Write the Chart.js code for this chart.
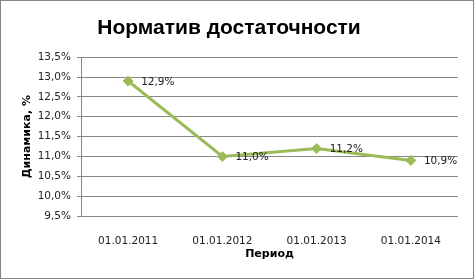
<!DOCTYPE html>
<html>
<head>
<meta charset="utf-8">
<script src="https://cdn.jsdelivr.net/npm/chart.js@4/dist/chart.umd.min.js"></script>
<style>
    html, body { margin: 0; padding: 0; background: #fff; }
    canvas { display: block; }
</style>
</head>
<body>
<canvas id="grafico" width="474" height="279"></canvas>
<script>
// --- Dados do gráfico ---
const periodos = ['01.01.2011', '01.01.2012', '01.01.2013', '01.01.2014'];
const valores = [12.9, 11.0, 11.2, 10.9];
const rotulos = ['12,9%', '11,0%', '11,2%', '10,9%'];
const eixoMin = 9.5;
const eixoMax = 13.5;
const eixoPasso = 0.5;

const corLinha = '#9BBB59';
const corGrade = '#868686';
const fonte = '"DejaVu Sans", sans-serif';

// --- Moldura externa ---
const moldura = {
    id: 'moldura',
    afterDraw(chart) {
        const ctx = chart.ctx;
        ctx.save();
        ctx.strokeStyle = corGrade;
        ctx.lineWidth = 1;
        ctx.strokeRect(0.5, 0.5, chart.width - 1, chart.height - 1);
        ctx.restore();
    }
};

// --- Rótulos de dados ao lado dos pontos ---
const rotulosDados = {
    id: 'rotulosDados',
    afterDatasetsDraw(chart) {
        const ctx = chart.ctx;
        const meta = chart.getDatasetMeta(0);
        ctx.save();
        ctx.font = '10.5px ' + fonte;
        ctx.fillStyle = '#222';
        ctx.textAlign = 'left';
        ctx.textBaseline = 'middle';
        meta.data.forEach((p, i) => {
            ctx.fillText(rotulos[i], p.x + 13, p.y + 1);
        });
        ctx.restore();
    }
};

new Chart(document.getElementById('grafico'), {
    type: 'line',
    data: {
        labels: periodos,
        datasets: [{
            data: valores,
            borderColor: corLinha,
            backgroundColor: corLinha,
            borderWidth: 3,
            tension: 0,
            pointStyle: 'rectRot',
            pointRadius: 5,
            pointBackgroundColor: corLinha,
            pointBorderColor: corLinha,
            pointBorderWidth: 1
        }]
    },
    options: {
        responsive: false,
        animation: false,
        devicePixelRatio: 1,
        layout: { padding: { left: 0, right: 16, top: 0, bottom: 0 } },
        plugins: {
            legend: { display: false },
            tooltip: { enabled: false },
            title: {
                display: true,
                text: 'Норматив достаточности',
                color: '#000',
                font: { family: '"Liberation Sans", sans-serif', size: 21, weight: 'bold' },
                padding: { top: 16, bottom: 16 }
            }
        },
        scales: {
            x: {
                offset: true,
                grid: { display: false },
                border: { display: false },
                ticks: { color: '#222', font: { family: fonte, size: 10.5 }, padding: 11, maxRotation: 0 },
                title: {
                    display: true,
                    text: 'Период',
                    color: '#000',
                    font: { family: fonte, size: 11, weight: 'bold' },
                    padding: { top: 0, bottom: 18 }
                },
                afterFit(scale) { scale.height = 63; }
            },
            y: {
                min: eixoMin,
                max: eixoMax,
                grid: { color: corGrade, lineWidth: 1, drawTicks: true, tickLength: 4 },
                border: { display: true, color: corGrade, width: 1 },
                ticks: {
                    stepSize: eixoPasso,
                    color: '#222',
                    font: { family: fonte, size: 10.5 },
                    padding: 6,
                    callback: v => v.toFixed(1).replace('.', ',') + '%'
                },
                title: {
                    display: true,
                    text: 'Динамика, %',
                    color: '#000',
                    font: { family: fonte, size: 11, weight: 'bold' },
                    padding: { top: 21, bottom: 0 }
                },
                afterFit(scale) { scale.width = 81; }
            }
        }
    },
    plugins: [moldura, rotulosDados]
});
</script>
</body>
</html>
